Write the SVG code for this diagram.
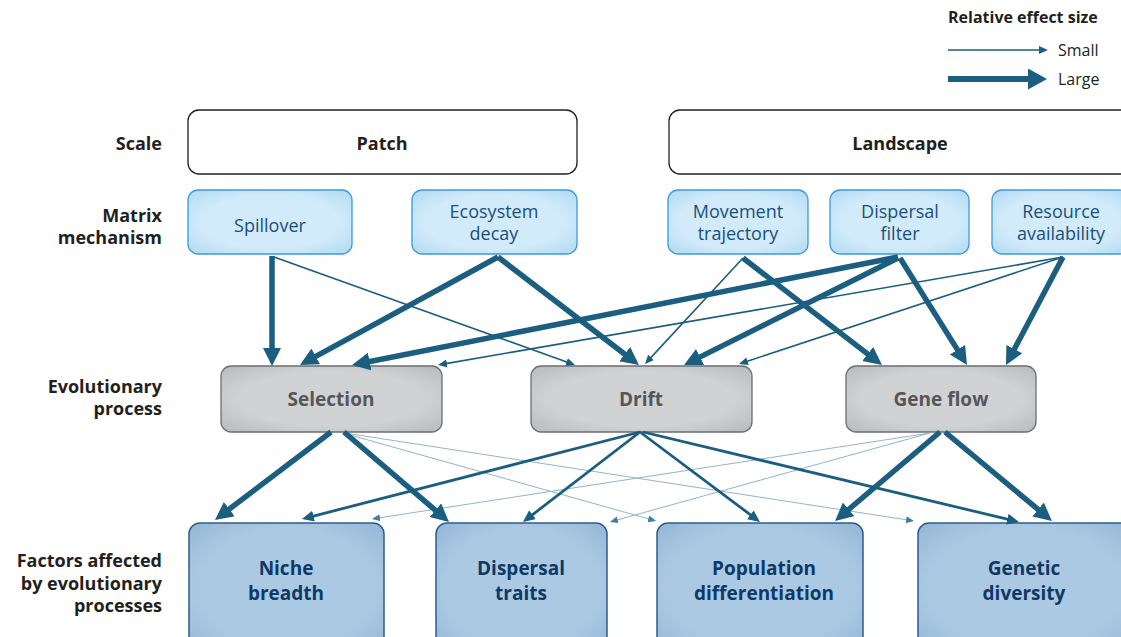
<svg xmlns="http://www.w3.org/2000/svg" width="1121" height="637" viewBox="0 0 1121 637">
<style>
  .lbl{font-family:"Open Sans","Liberation Sans",sans-serif;font-weight:bold;font-size:18px;fill:#231f20;text-anchor:end}
  .scale rect{fill:#fff;stroke:#231f20;stroke-width:1.3}
  .scale text{font-family:"Open Sans","Liberation Sans",sans-serif;font-weight:bold;font-size:18px;fill:#231f20;text-anchor:middle}
  .mech rect{fill:url(#gMech);stroke:#3d9ad6;stroke-width:1.3}
  .mech text{font-family:"Open Sans","Liberation Sans",sans-serif;font-size:18px;fill:#1b4f7a;text-anchor:middle}
  .evo rect{fill:url(#gEvo);stroke:#6d6e71;stroke-width:1.3}
  .evo text{font-family:"Open Sans","Liberation Sans",sans-serif;font-weight:bold;font-size:19px;fill:#555658;text-anchor:middle}
  .fac rect{fill:url(#gFac);stroke:#2c5d8c;stroke-width:1.5}
  .fac text{font-family:"Open Sans","Liberation Sans",sans-serif;font-weight:bold;font-size:19px;fill:#0d3a64;text-anchor:middle}
  .leg text{font-family:"Open Sans","Liberation Sans",sans-serif;font-size:16px;fill:#231f20}
  .thick{stroke:#1b5e80;stroke-width:5.5;fill:none;marker-end:url(#hL)}
  .med{stroke:#1b5e80;stroke-width:2.8;fill:none;marker-end:url(#hM)}
  .thin{stroke:#1b5e80;stroke-width:1.6;fill:none;marker-end:url(#hS)}
  .faint{stroke:#8fb5cb;stroke-width:1;fill:none;marker-end:url(#hF)}
</style>
<defs>
  <radialGradient id="gMech" cx="50%" cy="50%" r="75%">
    <stop offset="0.55" stop-color="#d2ebfa"/>
    <stop offset="1" stop-color="#a9d6f1"/>
  </radialGradient>
  <radialGradient id="gEvo" cx="50%" cy="50%" r="75%">
    <stop offset="0.55" stop-color="#d1d2d4"/>
    <stop offset="1" stop-color="#b4b5b8"/>
  </radialGradient>
  <radialGradient id="gFac" cx="50%" cy="50%" r="75%">
    <stop offset="0.6" stop-color="#abc9e3"/>
    <stop offset="1" stop-color="#8eb3d4"/>
  </radialGradient>
  <marker id="hL" markerUnits="userSpaceOnUse" markerWidth="20" markerHeight="20" refX="1" refY="9" orient="auto">
    <path d="M0,0 L18,9 L0,18 z" fill="#1b5e80"/>
  </marker>
  <marker id="hM" markerUnits="userSpaceOnUse" markerWidth="14" markerHeight="14" refX="1" refY="5.5" orient="auto">
    <path d="M0,0 L12,5.5 L0,11 z" fill="#1b5e80"/>
  </marker>
  <marker id="hS" markerUnits="userSpaceOnUse" markerWidth="12" markerHeight="12" refX="1" refY="4" orient="auto">
    <path d="M0,0 L9,4 L0,8 z" fill="#1b5e80"/>
  </marker>
  <marker id="hF" markerUnits="userSpaceOnUse" markerWidth="10" markerHeight="10" refX="1" refY="3.5" orient="auto">
    <path d="M0,0 L8,3.5 L0,7 z" fill="#3f7fa3"/>
  </marker>
  <marker id="hLeg" markerUnits="userSpaceOnUse" markerWidth="22" markerHeight="24" refX="1" refY="10.5" orient="auto">
    <path d="M0,0 L19,10.5 L0,21 z" fill="#1b5e80"/>
  </marker>
</defs>

<g id="legend" class="leg">
  <text x="948" y="23" font-weight="bold" font-size="15.5">Relative effect size</text>
  <line x1="948" y1="50" x2="1040" y2="50" stroke="#1b5e80" stroke-width="1.6" marker-end="url(#hS)"/>
  <text x="1058" y="56">Small</text>
  <line x1="948" y1="79" x2="1029" y2="79" stroke="#1b5e80" stroke-width="6" marker-end="url(#hLeg)"/>
  <text x="1058" y="85">Large</text>
</g>

<g id="row-labels">
  <text class="lbl" x="162" y="150">Scale</text>
  <text class="lbl" x="162" y="222">Matrix</text>
  <text class="lbl" x="162" y="244">mechanism</text>
  <text class="lbl" x="162" y="393">Evolutionary</text>
  <text class="lbl" x="162" y="415">process</text>
  <text class="lbl" x="162" y="567">Factors affected</text>
  <text class="lbl" x="162" y="590">by evolutionary</text>
  <text class="lbl" x="162" y="612">processes</text>
</g>

<g id="patch" class="scale">
  <rect x="188" y="110" width="389" height="64" rx="11"/>
  <text x="382" y="150">Patch</text>
</g>
<g id="landscape" class="scale">
  <rect x="669" y="110" width="470" height="64" rx="11"/>
  <text x="900" y="150">Landscape</text>
</g>

<g id="spillover" class="mech">
  <rect x="188" y="190" width="164" height="64" rx="10"/>
  <text x="270" y="232">Spillover</text>
</g>
<g id="ecosystem-decay" class="mech">
  <rect x="412" y="190" width="165" height="64" rx="10"/>
  <text x="494" y="218">Ecosystem</text>
  <text x="494" y="240">decay</text>
</g>
<g id="movement-trajectory" class="mech">
  <rect x="668" y="190" width="140" height="64" rx="10"/>
  <text x="738" y="218">Movement</text>
  <text x="738" y="240">trajectory</text>
</g>
<g id="dispersal-filter" class="mech">
  <rect x="830" y="190" width="139" height="64" rx="10"/>
  <text x="900" y="218">Dispersal</text>
  <text x="900" y="240">filter</text>
</g>
<g id="resource-availability" class="mech">
  <rect x="992" y="190" width="137" height="64" rx="10"/>
  <text x="1061" y="218">Resource</text>
  <text x="1061" y="240">availability</text>
</g>

<g id="selection" class="evo">
  <rect x="221" y="366" width="221" height="66" rx="10"/>
  <text x="331" y="406">Selection</text>
</g>
<g id="drift" class="evo">
  <rect x="531" y="366" width="221" height="66" rx="10"/>
  <text x="641" y="406">Drift</text>
</g>
<g id="gene-flow" class="evo">
  <rect x="846" y="366" width="190" height="66" rx="10"/>
  <text x="941" y="406">Gene flow</text>
</g>

<g id="niche-breadth" class="fac">
  <rect x="189" y="523" width="195" height="130" rx="11"/>
  <text x="286" y="575">Niche</text>
  <text x="286" y="600">breadth</text>
</g>
<g id="dispersal-traits" class="fac">
  <rect x="436" y="523" width="171" height="130" rx="11"/>
  <text x="521" y="575">Dispersal</text>
  <text x="521" y="600">traits</text>
</g>
<g id="population-differentiation" class="fac">
  <rect x="657" y="523" width="206" height="130" rx="11"/>
  <text x="764" y="575">Population</text>
  <text x="764" y="600">differentiation</text>
</g>
<g id="genetic-diversity" class="fac">
  <rect x="918" y="523" width="215" height="130" rx="11"/>
  <text x="1024" y="575">Genetic</text>
  <text x="1024" y="600">diversity</text>
</g>

<g id="connectors">
  <line class="faint" x1="343" y1="433" x2="649.3" y2="519.1"/>
  <line class="faint" x1="345" y1="433" x2="907.1" y2="519.9"/>
  <line class="faint" x1="930" y1="433" x2="378.9" y2="517.9"/>
  <line class="faint" x1="930" y1="433" x2="616.7" y2="520.1"/>
  <line class="thin" x1="274" y1="257" x2="567.5" y2="362.3"/>
  <line class="thin" x1="743" y1="258" x2="650.4" y2="358.1"/>
  <line class="thin" x1="1063" y1="257" x2="445.9" y2="363.6"/>
  <line class="thin" x1="1063" y1="257" x2="746.6" y2="361.5"/>
  <line class="thick" x1="272" y1="256" x2="272" y2="349"/>
  <line class="thick" x1="498" y1="257" x2="314.9" y2="356.9"/>
  <line class="thick" x1="498" y1="257" x2="625.5" y2="354.7"/>
  <line class="thick" x1="743" y1="258" x2="868.5" y2="354.6"/>
  <line class="thick" x1="898" y1="257" x2="368.7" y2="361.7"/>
  <line class="thick" x1="898" y1="258" x2="699.2" y2="357.4"/>
  <line class="thick" x1="900" y1="258" x2="958" y2="350.6"/>
  <line class="thick" x1="1063" y1="257" x2="1013.9" y2="350"/>
  <line class="med" x1="640" y1="432" x2="312.6" y2="516.3"/>
  <line class="med" x1="640" y1="432" x2="531.7" y2="515.3"/>
  <line class="med" x1="640" y1="432" x2="751.2" y2="515.4"/>
  <line class="med" x1="643" y1="432" x2="1008.3" y2="519.4"/>
  <line class="thick" x1="331" y1="432" x2="228.5" y2="509.7"/>
  <line class="thick" x1="344" y1="432" x2="436.1" y2="510.9"/>
  <line class="thick" x1="940" y1="432" x2="848" y2="510"/>
  <line class="thick" x1="945" y1="432" x2="1038.9" y2="510.1"/>
</g>
</svg>
